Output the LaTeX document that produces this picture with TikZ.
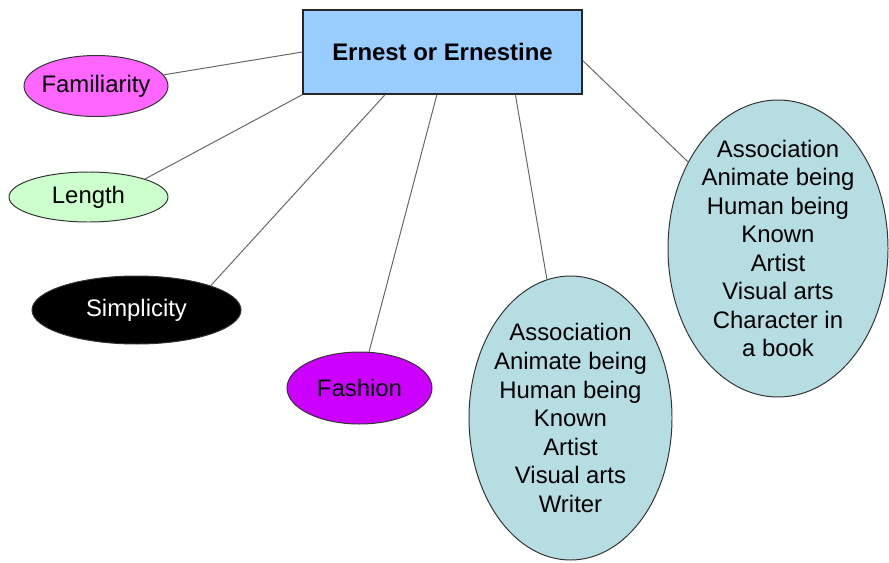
\documentclass[tikz,border=0pt]{standalone}
\usepackage{fontspec}
\setmainfont{Liberation Sans}
\usetikzlibrary{shapes.geometric, calc}
\definecolor{boxblue}{HTML}{99CCFF}
\definecolor{famink}{HTML}{FF66FF}
\definecolor{lenmint}{HTML}{CCFFCC}
\definecolor{fashviolet}{HTML}{CC00FF}
\definecolor{assocteal}{HTML}{B6DDE2}
\tikzset{
  % Name box at the top
  topicbox/.style={draw=black!85, fill=boxblue, line width=1pt, minimum width=6.975cm, minimum height=2.1cm, font=\fontsize{17}{20.3}\selectfont\bfseries},
  % Ellipses around the name
  cuenode/.style={ellipse, draw=black!80, line width=0.7pt, inner xsep=-4pt, inner ysep=0pt, align=center, font=\fontsize{17}{20.3}\selectfont},
  assocnode/.style={cuenode, fill=assocteal, inner ysep=-8pt},
  % Links back to the box
  linkline/.style={draw=black!60, line width=0.7pt},
}

\begin{document}
\begin{tikzpicture}
  \useasboundingbox (0,0) rectangle (22.225,-14.05);

  % Name and cue nodes
  \node[topicbox] (name) at (11.0625,-1.3) {Ernest or Ernestine};
  \node[cuenode, fill=famink, minimum width=3.6cm, minimum height=1.525cm] (famil) at (2.4,-2.15) {Familiarity};
  \node[cuenode, fill=lenmint, minimum width=3.975cm, minimum height=1.25cm] (length) at (2.2125,-4.925) {Length};
  \node[cuenode, fill=black, text=white, minimum width=5.225cm, minimum height=1.7cm] (simpl) at (3.4125,-7.75) {Simplicity};
  \node[cuenode, fill=fashviolet, minimum width=3.625cm, minimum height=1.8cm] (fashion) at (8.9875,-9.7) {Fashion};

  % Association lists
  \node[assocnode, minimum width=5.075cm, minimum height=7.1cm] (writer) at (14.2625,-10.45)
    {Association\\Animate being\\Human being\\Known\\Artist\\Visual arts\\Writer};
  \node[assocnode, minimum width=5.5cm, minimum height=7.425cm] (book) at (19.45,-6.2125)
    {Association\\Animate being\\Human being\\Known\\Artist\\Visual arts\\Character in\\a book};

  \draw[linkline] (famil) -- (name.west);
  \draw[linkline] (length.north east) -- (name.south west);
  \draw[linkline] (simpl.north east) -- ($(name.south west)!0.295!(name.south east)$);
  \draw[linkline] (fashion) -- ($(name.south west)!0.48!(name.south east)$);
  \draw[linkline] (writer) -- ($(name.south west)!0.76!(name.south east)$);
  \draw[linkline] (book) -- ($(name.north east)!0.6!(name.south east)$);

\end{tikzpicture}
\end{document}
